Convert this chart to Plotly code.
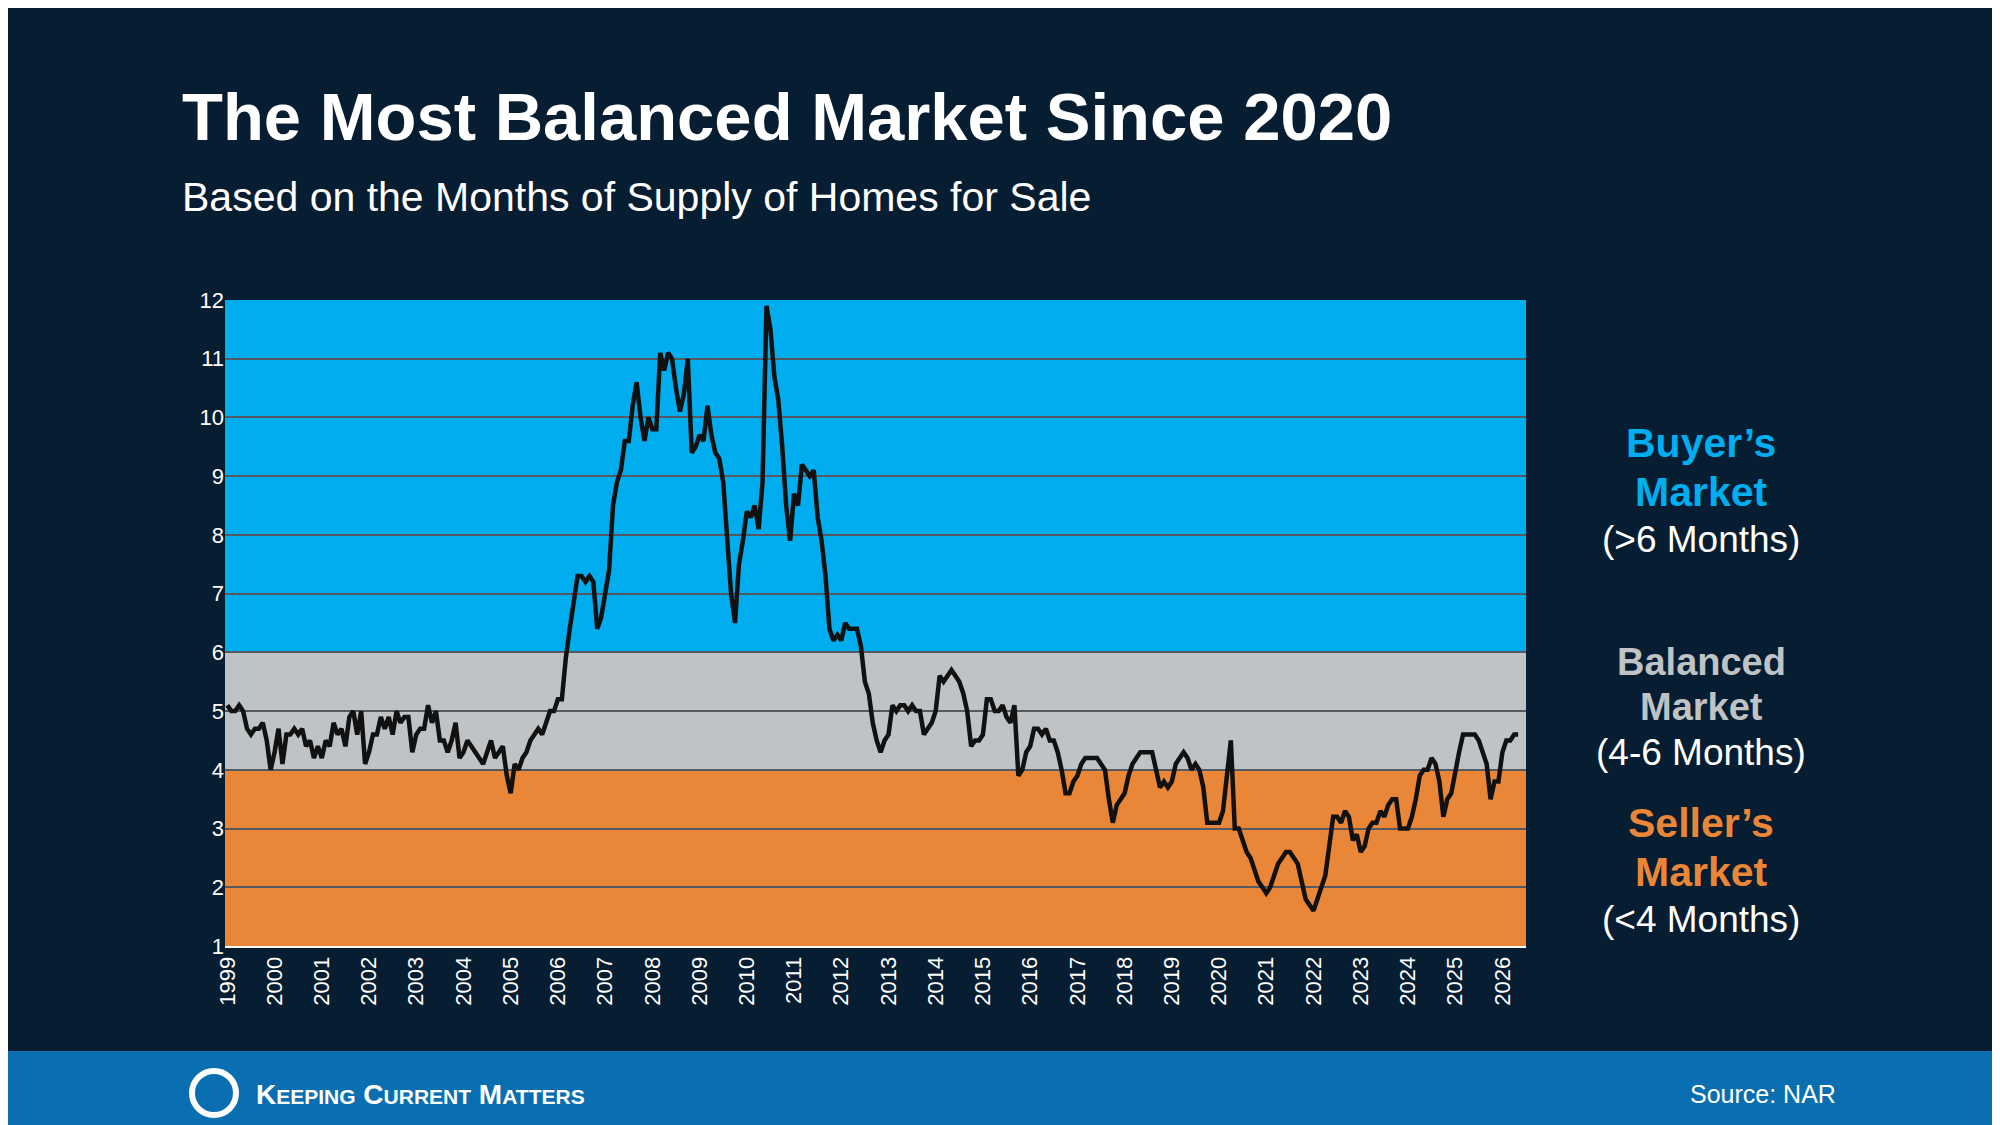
import plotly.graph_objs as go

# monthly months-of-supply, Jan 1999 onward
supply = [
    5.1,5.0,5.0,5.1,5.0,4.7,4.6,4.7,4.7,4.8,4.5,4.0,   # 1999
    4.3,4.7,4.1,4.6,4.6,4.7,4.6,4.7,4.4,4.5,4.2,4.4,   # 2000
    4.2,4.5,4.4,4.8,4.6,4.7,4.4,4.9,5.0,4.6,5.0,4.1,   # 2001
    4.3,4.6,4.6,4.9,4.7,4.9,4.6,5.0,4.8,4.9,4.9,4.3,   # 2002
    4.6,4.7,4.7,5.1,4.8,5.0,4.5,4.5,4.3,4.5,4.8,4.2,   # 2003
    4.3,4.5,4.4,4.3,4.2,4.1,4.3,4.5,4.2,4.3,4.4,3.9,   # 2004
    3.6,4.1,4.0,4.2,4.3,4.5,4.6,4.7,4.6,4.8,5.0,5.0,   # 2005
    5.2,5.2,5.9,6.4,6.9,7.3,7.3,7.2,7.3,7.2,6.4,6.6,   # 2006
    7.0,7.4,8.5,8.9,9.1,9.6,9.6,10.2,10.6,10.0,9.6,10.0,  # 2007
    9.8,9.8,11.1,10.8,11.1,11.0,10.5,10.1,10.4,11.0,9.4,9.5,  # 2008
    9.7,9.6,10.2,9.7,9.4,9.3,8.9,8.0,7.0,6.5,7.5,7.9,  # 2009
    8.4,8.3,8.5,8.1,8.9,11.9,11.5,10.7,10.3,9.5,8.5,7.9,  # 2010
    8.7,8.5,9.2,9.1,9.0,9.1,8.3,7.9,7.3,6.4,6.2,6.3,   # 2011
    6.2,6.5,6.4,6.4,6.4,6.1,5.5,5.3,4.8,4.5,4.3,4.5,   # 2012
    4.6,5.1,5.0,5.1,5.1,5.0,5.1,5.0,5.0,4.6,4.7,4.8,   # 2013
    5.0,5.6,5.5,5.6,5.7,5.6,5.5,5.3,5.0,4.4,4.5,4.5,   # 2014
    4.6,5.2,5.2,5.0,5.0,5.1,4.9,4.8,5.1,3.9,4.0,4.3,   # 2015
    4.4,4.7,4.7,4.6,4.7,4.5,4.5,4.3,4.0,3.6,3.6,3.8,   # 2016
    3.9,4.1,4.2,4.2,4.2,4.2,4.1,4.0,3.5,3.1,3.4,3.5,   # 2017
    3.6,3.9,4.1,4.2,4.3,4.3,4.3,4.3,4.0,3.7,3.8,3.7,   # 2018
    3.8,4.1,4.2,4.3,4.2,4.0,4.1,4.0,3.7,3.1,3.1,3.1,   # 2019
    3.1,3.3,3.9,4.5,3.0,3.0,2.8,2.6,2.5,2.3,2.1,2.0,   # 2020
    1.9,2.0,2.2,2.4,2.5,2.6,2.6,2.5,2.4,2.1,1.8,1.7,   # 2021
    1.6,1.8,2.0,2.2,2.7,3.2,3.2,3.1,3.3,3.2,2.8,2.9,   # 2022
    2.6,2.7,3.0,3.1,3.1,3.3,3.2,3.4,3.5,3.5,3.0,3.0,   # 2023
    3.0,3.2,3.5,3.9,4.0,4.0,4.2,4.1,3.8,3.2,3.5,3.6,   # 2024
    4.0,4.3,4.6,4.6,4.6,4.6,4.5,4.3,4.1,3.5,3.8,3.8,   # 2025
    4.3,4.5,4.5,4.6,4.6,                               # 2026
]
dates = [1999 + i / 12 for i in range(len(supply))]
years = list(range(1999, 2027))

# plot area in pixels
L, R, T, B = 217, 1518, 292, 938
W, H = R - L, B - T

def px(x):
    return (x - L) / W

def py(y):
    return (B - y) / H

fig = go.Figure()
fig.add_trace(go.Scatter(x=dates, y=supply, mode='lines',
                         line=dict(color='#111111', width=4.5), hoverinfo='skip'))

# market zones
zones = [(1, 4, '#ea8638'), (4, 6, '#bfc3c5'), (6, 12, '#00adee')]
for y0, y1, c in zones:
    fig.add_shape(type='rect', xref='paper', yref='y', x0=0, x1=1, y0=y0, y1=y1,
                  fillcolor=c, line_width=0, layer='below')

# footer band
fig.add_shape(type='rect', xref='paper', yref='paper', x0=px(0), x1=px(2000), y0=py(1130), y1=py(1043),
              fillcolor='#0a6fb0', line_width=0)

fig.update_layout(
    width=2000, height=1125,
    paper_bgcolor='#071d31', plot_bgcolor='rgba(0,0,0,0)',
    margin=dict(l=L, r=2000 - R, t=T, b=1125 - B),
    showlegend=False,
    font=dict(family='Liberation Sans, Arial', color='white'),
)
fig.update_xaxes(range=[1998.95, 2026.5], tickvals=years, ticktext=[str(y) for y in years],
                 tickangle=-90, tickfont=dict(size=22, color='white'),
                 showgrid=False, zeroline=False, showline=True, linecolor='white', linewidth=2)
fig.update_yaxes(range=[1, 12], dtick=1, tickfont=dict(size=22, color='white'),
                 showgrid=True, gridcolor='#555a60', gridwidth=2, zeroline=False,
                 layer='above traces')

ann = [
    dict(x=172, y=108, text='<b>The Most Balanced Market Since 2020</b>', size=67, color='white', xa='left'),
    dict(x=172, y=189, text='Based on the Months of Supply of Homes for Sale', size=41, color='white', xa='left'),
    dict(x=1693, y=435, text='<b>Buyer’s</b>', size=41, color='#00adee', xa='center'),
    dict(x=1693, y=484, text='<b>Market</b>', size=41, color='#00adee', xa='center'),
    dict(x=1693, y=531, text='(>6 Months)', size=37, color='white', xa='center'),
    dict(x=1693, y=654, text='<b>Balanced</b>', size=38, color='#bfc3c5', xa='center'),
    dict(x=1693, y=699, text='<b>Market</b>', size=38, color='#bfc3c5', xa='center'),
    dict(x=1693, y=744, text='(4-6 Months)', size=37, color='white', xa='center'),
    dict(x=1693, y=815, text='<b>Seller’s</b>', size=41, color='#ea8638', xa='center'),
    dict(x=1693, y=864, text='<b>Market</b>', size=41, color='#ea8638', xa='center'),
    dict(x=1693, y=911, text='(<4 Months)', size=37, color='white', xa='center'),
    dict(x=246, y=1086, text='<b>K<span style="font-size:21px">EEPING</span> C<span style="font-size:21px">URRENT</span> M<span style="font-size:21px">ATTERS</span></b>', size=28, color='white', xa='left'),
    dict(x=1680, y=1086, text='Source: NAR', size=25, color='white', xa='left'),
]
for a in ann:
    fig.add_annotation(x=px(a['x']), y=py(a['y']), xref='paper', yref='paper',
                       text=a['text'], showarrow=False, xanchor=a['xa'], yanchor='middle',
                       font=dict(size=a['size'], color=a['color']))

# logo ring
fig.add_shape(type='circle', xref='paper', yref='paper',
              x0=px(184), x1=px(228), y0=py(1107), y1=py(1063),
              line=dict(color='white', width=6))

fig.write_html("out.html")
